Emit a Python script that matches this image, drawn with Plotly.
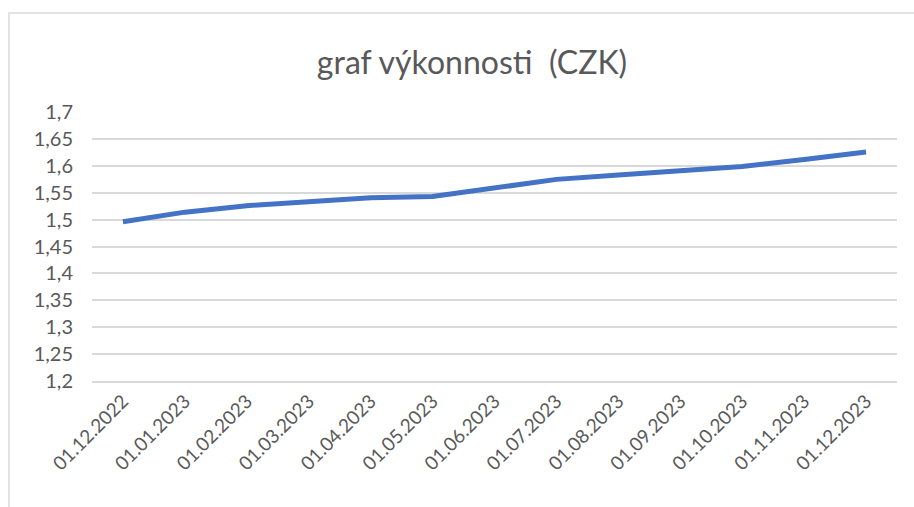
import plotly.graph_objects as go

dates = ["01.12.2022", "01.01.2023", "01.02.2023", "01.03.2023", "01.04.2023",
         "01.05.2023", "01.06.2023", "01.07.2023", "01.08.2023", "01.09.2023",
         "01.10.2023", "01.11.2023", "01.12.2023"]
values = [1.496, 1.514, 1.526, 1.534, 1.541, 1.543, 1.559, 1.575, 1.583, 1.591,
          1.599, 1.612, 1.626]
y_ticks = [1.2, 1.25, 1.3, 1.35, 1.4, 1.45, 1.5, 1.55, 1.6, 1.65, 1.7]
y_tick_labels = ["1,2", "1,25", "1,3", "1,35", "1,4", "1,45", "1,5", "1,55", "1,6", "1,65", "1,7"]

W, H = 914, 507
L, R, T, B = 92, 17, 112, 126
pw, ph = W - L - R, H - T - B

def px_x(x):
    return (x - L) / pw

def px_y(y):
    return (H - B - y) / ph

FONT = "Lato"
GREY = "#595959"

fig = go.Figure()
fig.add_trace(go.Scatter(
    x=dates, y=values, mode="lines",
    line=dict(color="#4472C4", width=5, shape="linear"),
    hoverinfo="x+y", showlegend=False,
))

fig.update_layout(
    width=W, height=H,
    margin=dict(l=L, r=R, t=T, b=B, autoexpand=False),
    paper_bgcolor="white", plot_bgcolor="white",
    title=dict(text="graf výkonnosti  (CZK)", x=472 / W, xanchor="center",
               y=1 - 63 / H, yanchor="middle",
               font=dict(family=FONT, size=32, color=GREY)),
    font=dict(family=FONT, color=GREY),
    xaxis=dict(type="category", range=[-0.5, 12.5], tickangle=-45,
               showgrid=False, showline=True, linecolor="#D9D9D9", linewidth=1.5,
               ticks="", tickfont=dict(size=19, color=GREY), fixedrange=True),
    yaxis=dict(range=[1.1995, 1.7005], tickvals=y_ticks, ticktext=y_tick_labels,
               showgrid=True, gridcolor="#D9D9D9", gridwidth=1.5,
               zeroline=False, showline=False, ticks="", ticklabelstandoff=18,
               tickfont=dict(size=20, color=GREY), fixedrange=True),
    shapes=[dict(type="rect", xref="paper", yref="paper",
                 x0=px_x(9), x1=px_x(W + 5), y0=px_y(H + 5), y1=px_y(13),
                 line=dict(color="#D9D9D9", width=1.5), fillcolor="rgba(0,0,0,0)",
                 layer="below")],
)

fig.write_html("out.html", config={"displayModeBar": False},
               post_script="document.body.style.margin='0';")
